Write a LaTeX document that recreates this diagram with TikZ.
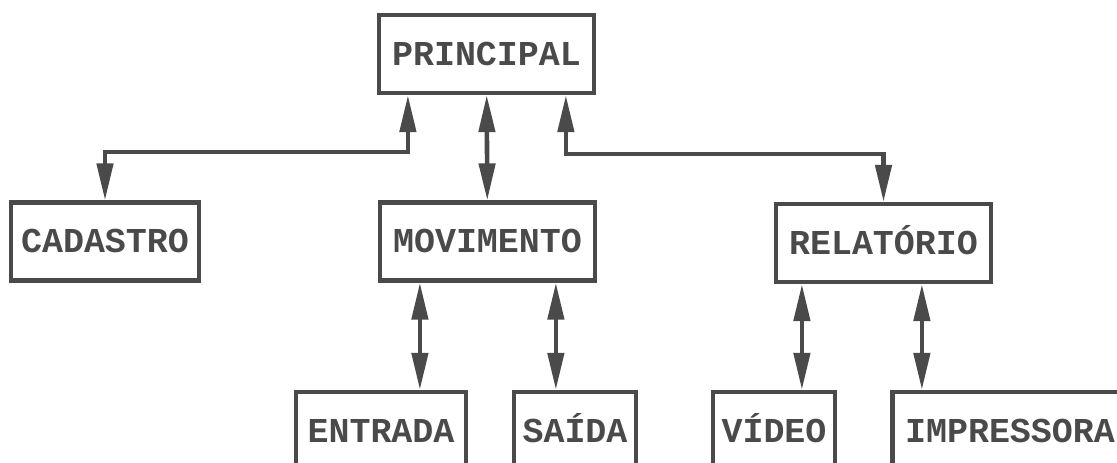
\documentclass[tikz,border=0pt]{standalone}
\usepackage{fontspec}
\setmonofont{Liberation Mono}
\usetikzlibrary{arrows.meta, positioning}
\definecolor{ink}{HTML}{4A4A4A}

\begin{document}
\begin{tikzpicture}[
			x=0.02cm, y=-0.02cm,
			every node/.style={font=\ttfamily\bfseries\fontsize{19.9pt}{24pt}\selectfont, text=ink},
			module/.style={rectangle, draw=ink, line width=2.4pt, align=center, inner sep=0pt, minimum height=1.56cm, text height=0.46cm, text depth=0cm},
			link/.style={{Triangle[length=0.74cm,width=0.32cm]}-{Triangle[length=0.74cm,width=0.32cm]}, draw=ink, line width=2.6pt}
			]

			\useasboundingbox (0,0) rectangle (1117,463);

			\node[module, minimum width=4.3cm] (principal) at (486.5,54) {PRINCIPAL};
			\node[module, minimum width=3.76cm] (cadastro) at (105,241.5) {CADASTRO};
			\node[module, minimum width=4.3cm] (movimento) at (487.5,241.5) {MOVIMENTO};
			\node[module, minimum width=4.3cm] (relatorio) at (883.5,243) {RELATÓRIO};
			\node[module, minimum width=3.4cm] (entrada) at (381,431) {ENTRADA};
			\node[module, minimum width=2.44cm] (saida) at (575,431) {SAÍDA};
			\node[module, minimum width=2.44cm] (video) at (774,431) {VÍDEO};
			\node[module, minimum width=4.7cm] (impressora) at (1010,431) {IMPRESSORA};

			\coordinate (pl) at ([xshift=0.62cm]principal.south west);
			\coordinate (pr) at ([xshift=3.78cm]principal.south west);
			\coordinate (ml) at ([xshift=0.84cm]movimento.south west);
			\coordinate (mr) at ([xshift=3.56cm]movimento.south west);
			\coordinate (rl) at ([xshift=0.56cm]relatorio.south west);
			\coordinate (rr) at ([xshift=2.96cm]relatorio.south west);

			\draw[link] (pl) -- ++(0,57) -| (cadastro.north);
			\draw[link] (principal) -- (movimento);
			\draw[link] (pr) -- ++(0,59) -| (relatorio.north);
			\draw[link] (ml) -- (ml |- entrada.north);
			\draw[link] (mr) -- (mr |- saida.north);
			\draw[link] (rl) -- (rl |- video.north);
			\draw[link] (rr) -- (rr |- impressora.north);

		\end{tikzpicture}
\end{document}
